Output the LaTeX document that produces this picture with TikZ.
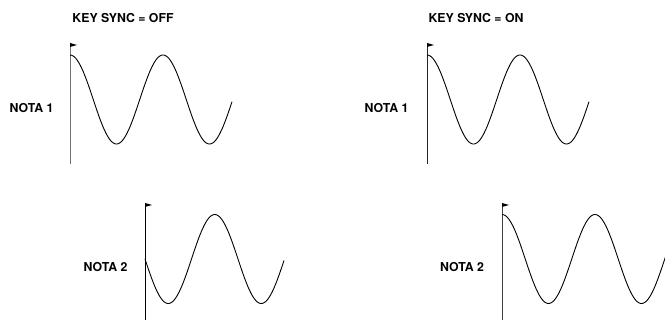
\documentclass[tikz,border=0pt]{standalone}
\usepackage{fontspec}
\setmainfont{TeX Gyre Heros}
\begin{document}
\begin{tikzpicture}[x=1pt, y=-1pt, line width=0.9pt, font=\bfseries\fontsize{12.3}{14}\selectfont]
    \useasboundingbox (0,0) rectangle (665,320);
    \draw (123, 18) node (syncoff) {KEY SYNC = OFF};
    \draw (476, 18) node (syncon) {KEY SYNC = ON};
    \foreach \ox/\oy/\ytop/\ybot/\len/\ph/\col/\n/\lx/\ly/\lab in {
            70/99.5/43/164/162/90/black!55/a/31.5/108/NOTA 1,
            427/99.5/43/164/162/90/black!85/b/386.5/108/NOTA 1,
            145/259/203/320/139/180/black/c/105.5/267/NOTA 2,
            502/259/203/320/165/90/black!75/d/462/267/NOTA 2} {
        \draw[\col, line width=1pt] (\ox, \ytop) -- (\ox, \ybot);
        \fill (\ox, \ytop) -- ++(7, 2) -- ++(-7, 2) -- cycle;
        \draw[domain=0:\len, samples=160, line join=round] plot ({\ox+\x}, {\oy - 44.5*sin(3.871*\x + \ph)});
        \draw (\lx, \ly) node (nota\n) {\lab};
    }
\end{tikzpicture}
\end{document}
